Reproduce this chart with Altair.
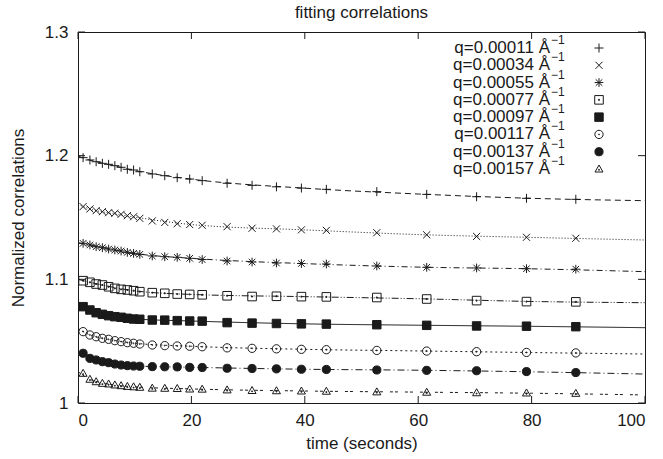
import altair as alt
import pandas as pd

# ---------------- data ----------------
labels = ["q=0.00011 Å", "q=0.00034 Å", "q=0.00055 Å", "q=0.00077 Å",
          "q=0.00097 Å", "q=0.00117 Å", "q=0.00137 Å", "q=0.00157 Å"]
sup_text = "−1"

times = [0.9, 2.1, 3.2, 4.3, 5.4, 6.5, 7.6, 8.7, 9.8, 10.9,
         13.1, 15.3, 17.5, 19.7, 21.9, 26.3, 30.7, 35.0, 39.4, 43.8,
         52.7, 61.5, 70.3, 79.1, 87.8]

s1 = [1.1984, 1.1965, 1.1951, 1.1938, 1.1930, 1.1919, 1.1906, 1.1890, 1.1884, 1.1870,
      1.1852, 1.1838, 1.1822, 1.1811, 1.1798, 1.1777, 1.1760, 1.1748, 1.1738, 1.1728,
      1.1709, 1.1687, 1.1668, 1.1655, 1.1647]
s2 = [1.1588, 1.1569, 1.1555, 1.1547, 1.1539, 1.1534, 1.1526, 1.1515, 1.1506, 1.1493,
      1.1472, 1.1460, 1.1450, 1.1443, 1.1437, 1.1426, 1.1413, 1.1408, 1.1400, 1.1396,
      1.1377, 1.1360, 1.1347, 1.1340, 1.1332]
s3 = [1.1291, 1.1278, 1.1264, 1.1256, 1.1245, 1.1237, 1.1229, 1.1218, 1.1210, 1.1202,
      1.1189, 1.1183, 1.1178, 1.1170, 1.1160, 1.1148, 1.1140, 1.1132, 1.1128, 1.1124,
      1.1108, 1.1097, 1.1092, 1.1086, 1.1082]
s4 = [1.0989, 1.0976, 1.0962, 1.0954, 1.0940, 1.0927, 1.0919, 1.0914, 1.0908, 1.0900,
      1.0892, 1.0887, 1.0881, 1.0878, 1.0875, 1.0867, 1.0861, 1.0863, 1.0860, 1.0858,
      1.0853, 1.0841, 1.0828, 1.0820, 1.0818]
s5 = [1.0779, 1.0752, 1.0730, 1.0717, 1.0706, 1.0698, 1.0693, 1.0685, 1.0679, 1.0677,
      1.0671, 1.0670, 1.0666, 1.0663, 1.0662, 1.0650, 1.0646, 1.0643, 1.0640, 1.0638,
      1.0633, 1.0628, 1.0623, 1.0621, 1.0617]
s6 = [1.0577, 1.0550, 1.0536, 1.0523, 1.0515, 1.0504, 1.0496, 1.0488, 1.0483, 1.0477,
      1.0469, 1.0464, 1.0461, 1.0459, 1.0455, 1.0446, 1.0442, 1.0438, 1.0434, 1.0431,
      1.0425, 1.0420, 1.0415, 1.0409, 1.0405]
s7 = [1.0402, 1.0361, 1.0348, 1.0334, 1.0326, 1.0315, 1.0307, 1.0302, 1.0299, 1.0297,
      1.0294, 1.0293, 1.0292, 1.0288, 1.0287, 1.0281, 1.0279, 1.0276, 1.0273, 1.0271,
      1.0267, 1.0264, 1.0261, 1.0254, 1.0246]
s8 = [1.0240, 1.0192, 1.0172, 1.0159, 1.0154, 1.0146, 1.0140, 1.0134, 1.0131, 1.0127,
      1.0120, 1.0119, 1.0117, 1.0113, 1.0112, 1.0106, 1.0101, 1.0099, 1.0097, 1.0095,
      1.0090, 1.0087, 1.0083, 1.0081, 1.0078]
series = [s1, s2, s3, s4, s5, s6, s7, s8]

fit_t = [0, 2, 5, 10, 20, 40, 60, 80, 100]
f1 = [1.1997, 1.1965, 1.1933, 1.1880, 1.1810, 1.1737, 1.1690, 1.1655, 1.1636]
f2 = [1.1607, 1.1570, 1.1540, 1.1503, 1.1443, 1.1400, 1.1362, 1.1339, 1.1318]
f3 = [1.1296, 1.1279, 1.1250, 1.1209, 1.1170, 1.1127, 1.1099, 1.1085, 1.1062]
f4 = [1.1000, 1.0977, 1.0947, 1.0907, 1.0878, 1.0860, 1.0843, 1.0821, 1.0811]
f5 = [1.0792, 1.0754, 1.0710, 1.0680, 1.0663, 1.0640, 1.0629, 1.0620, 1.0609]
f6 = [1.0604, 1.0552, 1.0518, 1.0484, 1.0459, 1.0434, 1.0421, 1.0408, 1.0396]
f7 = [1.0415, 1.0363, 1.0329, 1.0300, 1.0289, 1.0273, 1.0265, 1.0252, 1.0234]
f8 = [1.0253, 1.0194, 1.0157, 1.0131, 1.0114, 1.0097, 1.0088, 1.0079, 1.0065]
fits = [f1, f2, f3, f4, f5, f6, f7, f8]

x_ticks = [0, 20, 40, 60, 80, 100]
y_ticks = [1.0, 1.1, 1.2, 1.3]

# ---------------- styles ----------------
W, H = 567, 371
FONT = "Liberation Sans"
INK = "#1a1a1a"
TICK = 7

PLUS = "M-1,0L1,0M0,-1L0,1"
CROSS = "M-0.8,-0.8L0.8,0.8M-0.8,0.8L0.8,-0.8"
STAR = "M-1,0L1,0M0,-1L0,1M-0.75,-0.75L0.75,0.75M-0.75,0.75L0.75,-0.75"
BOXDOT = "M-1,-1L1,-1L1,1L-1,1Z M-0.12,-0.12L0.12,-0.12L0.12,0.12L-0.12,0.12Z"
CIRCDOT = ("M-1,0A1,1,0,1,0,1,0A1,1,0,1,0,-1,0Z "
           "M-0.12,0A0.12,0.12,0,1,0,0.12,0A0.12,0.12,0,1,0,-0.12,0Z")
TRIDOT = "M0,-1L1,0.75L-1,0.75Z M-0.12,0.1L0.12,0.1L0.12,0.3L-0.12,0.3Z"
shapes = [PLUS, CROSS, STAR, BOXDOT, "square", CIRCDOT, "circle", TRIDOT]
sizes = [81, 64, 72, 64, 56, 64, 49, 56]
fills = ["transparent", "transparent", "transparent", "transparent",
         INK, "transparent", INK, "transparent"]
dashes = [[6, 4], [1, 2], [6, 3, 1, 3], [7, 2, 1, 2, 1, 2], [1, 0],
          [2, 3], [7, 3, 1, 3], [3, 2, 3, 7]]

# ---------------- tables ----------------
pts = pd.DataFrame([
    {"series": lab, "t": t, "v": v}
    for lab, vals in zip(labels, series) for t, v in zip(times, vals)
])
fit_df = pd.DataFrame([
    {"series": lab, "t": t, "v": v}
    for lab, vals in zip(labels, fits) for t, v in zip(fit_t, vals)
])
leg = pd.DataFrame({"series": labels, "idx": list(range(len(labels))),
                    "sup": [sup_text] * len(labels)})
xt = pd.DataFrame({"t": x_ticks})
yt = pd.DataFrame({"v": y_ticks})

xs = alt.Scale(domain=[0, 100], nice=False, zero=False)
ys = alt.Scale(domain=[1.0, 1.3], nice=False, zero=False)
shape_s = alt.Scale(domain=labels, range=shapes)
size_s = alt.Scale(domain=labels, range=sizes)
fill_s = alt.Scale(domain=labels, range=fills)
dash_s = alt.Scale(domain=labels, range=dashes)

x_enc = alt.X("t:Q", scale=xs, axis=alt.Axis(
    values=x_ticks, title="time (seconds)", ticks=False, domain=False, grid=False,
    labelPadding=9, titleX=W / 2, titleY=40, titleBaseline="middle"))
y_enc = alt.Y("v:Q", scale=ys, axis=alt.Axis(
    values=y_ticks, title="Normalized correlations", ticks=False, domain=False,
    grid=False, labelPadding=10, titleX=-60, titleY=H / 2, titleAngle=-90,
    titleBaseline="middle", labelExpr="datum.value == 1 ? '1' : format(datum.value, '.1f')"))

lines = alt.Chart(fit_df).mark_line(color=INK, strokeWidth=1, interpolate="monotone").encode(
    x=x_enc, y=y_enc,
    detail="series:N",
    strokeDash=alt.StrokeDash("series:N", scale=dash_s, legend=None),
)

points = alt.Chart(pts).mark_point(filled=True, stroke=INK, strokeWidth=1, opacity=1).encode(
    x=alt.X("t:Q", scale=xs), y=alt.Y("v:Q", scale=ys),
    shape=alt.Shape("series:N", scale=shape_s, legend=None),
    size=alt.Size("series:N", scale=size_s, legend=None),
    fill=alt.Fill("series:N", scale=fill_s, legend=None),
)

tick_bottom = alt.Chart(xt).mark_rule(color=INK, strokeWidth=1).encode(
    x=alt.X("t:Q", scale=xs), y=alt.value(H), y2=alt.value(H - TICK))
tick_top = alt.Chart(xt).mark_rule(color=INK, strokeWidth=1).encode(
    x=alt.X("t:Q", scale=xs), y=alt.value(0), y2=alt.value(TICK))
tick_left = alt.Chart(yt).mark_rule(color=INK, strokeWidth=1).encode(
    y=alt.Y("v:Q", scale=ys), x=alt.value(0), x2=alt.value(TICK))
tick_right = alt.Chart(yt).mark_rule(color=INK, strokeWidth=1).encode(
    y=alt.Y("v:Q", scale=ys), x=alt.value(W), x2=alt.value(W - TICK))

main = alt.layer(lines, points, tick_bottom, tick_top, tick_left, tick_right)

ly = alt.Y("idx:Q", scale=alt.Scale(domain=[0, 7], range=[16, 137]), axis=None)
leg_text = alt.Chart(leg).mark_text(align="right", baseline="middle", font=FONT,
                                    fontSize=17, color=INK).encode(
    x=alt.value(472), y=ly, text="series:N")
leg_sup = alt.Chart(leg).mark_text(align="left", baseline="middle", font=FONT,
                                   fontSize=12, color=INK, dy=-8).encode(
    x=alt.value(473), y=ly, text="sup:N")
leg_sym = alt.Chart(leg).mark_point(filled=True, stroke=INK, strokeWidth=1, opacity=1).encode(
    x=alt.value(521), y=ly,
    shape=alt.Shape("series:N", scale=shape_s, legend=None),
    size=alt.Size("series:N", scale=size_s, legend=None),
    fill=alt.Fill("series:N", scale=fill_s, legend=None),
)
legend = alt.layer(leg_text, leg_sup, leg_sym)

chart = alt.layer(main, legend).resolve_scale(y="independent").properties(
    width=W, height=H,
    autosize=alt.AutoSizeParams(type="none"),
    padding={"left": 78, "top": 32, "right": 18, "bottom": 56},
    title=alt.TitleParams("fitting correlations", font=FONT, fontSize=17,
                          fontWeight="normal", color=INK, anchor="middle", offset=1),
    background="white",
).configure_view(stroke=INK, strokeWidth=1).configure_axis(
    labelFont=FONT, labelFontSize=17, labelColor=INK,
    titleFont=FONT, titleFontSize=17, titleColor=INK, titleFontWeight="normal",
)

chart.save("out.html", embed_options={"renderer": "svg", "actions": False})
